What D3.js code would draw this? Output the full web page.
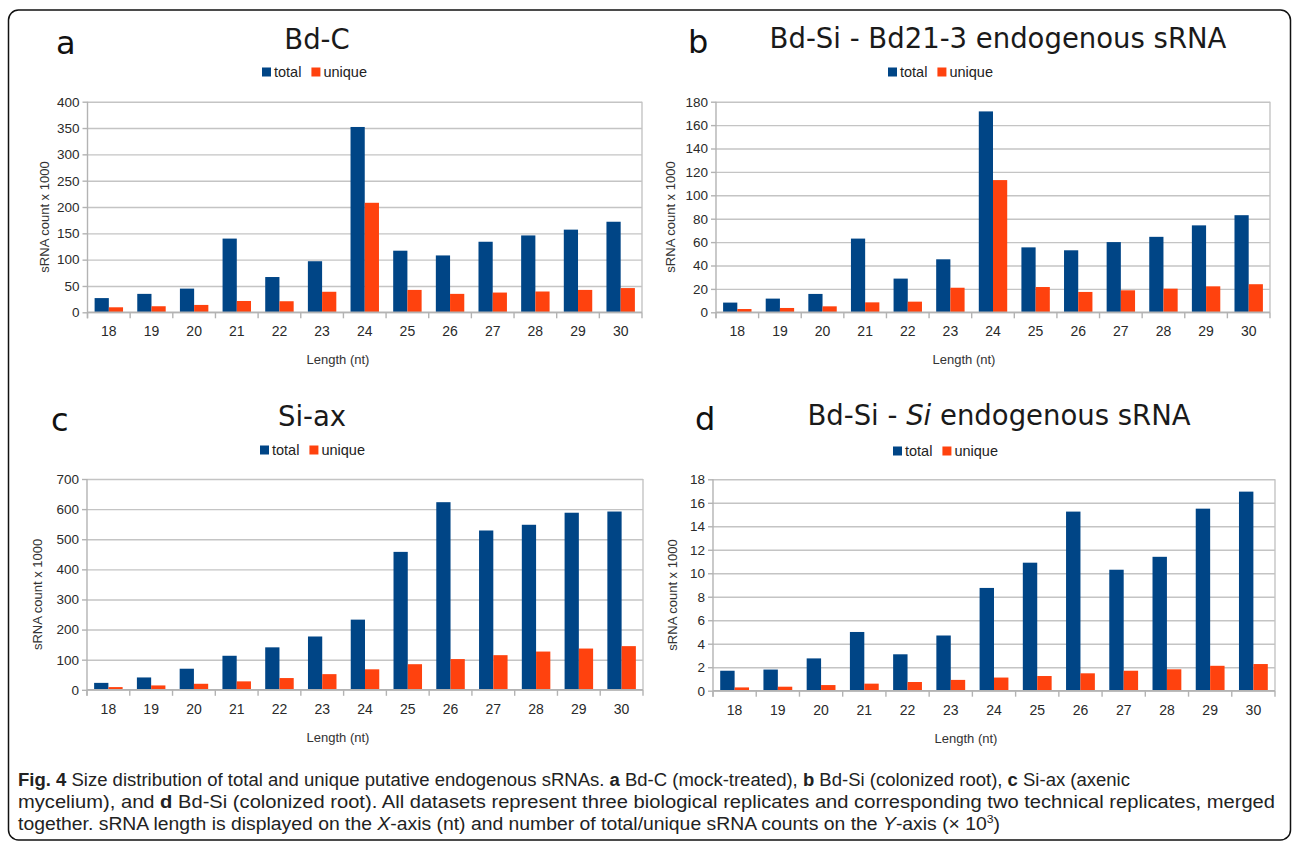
<!DOCTYPE html>
<html>
<head>
<meta charset="utf-8">
<script src="https://cdnjs.cloudflare.com/ajax/libs/d3/7.8.5/d3.min.js"></script>
<style>
  html, body { margin: 0; padding: 0; background: #fff; }
  svg { display: block; }
  .tick text { font-family: "Liberation Sans", Arial, sans-serif; }
</style>
</head>
<body>
<svg id="fig" width="1292" height="843"></svg>
<script>
// sRNA length categories (nt)
var lengths = ["18","19","20","21","22","23","24","25","26","27","28","29","30"];
var seriesNames = ["total", "unique"];

// counts x 1000
var bdcTotal   = [27, 35, 45, 140, 67, 97, 352, 117, 108, 134, 146, 157, 172];
var bdcUnique  = [9.5, 11.5, 14, 21.5, 21, 39, 208, 42.5, 35, 37.5, 39.5, 42.5, 46];
var bdsiTotal  = [8.3, 11.7, 15.7, 63, 28.8, 45.3, 171.7, 55.5, 53, 60, 64.5, 74.3, 83];
var bdsiUnique = [2.8, 3.7, 5.1, 8.5, 9.1, 21, 113, 21.6, 17.4, 18.8, 20.2, 22.2, 24];
var siaxTotal  = [23, 41, 70, 113, 141, 177, 233, 458, 623, 529, 548, 588, 592];
var siaxUnique = [9, 14.5, 20, 28, 39, 52, 68, 85, 102, 115, 127, 137, 145];
var siTotal    = [1.7, 1.8, 2.75, 5.0, 3.1, 4.7, 8.75, 10.9, 15.25, 10.3, 11.4, 15.5, 16.95];
var siUnique   = [0.28, 0.34, 0.48, 0.6, 0.74, 0.92, 1.12, 1.25, 1.48, 1.7, 1.82, 2.12, 2.27];

var ticksA = d3.range(0, 401, 50);
var ticksB = d3.range(0, 181, 20);
var ticksC = d3.range(0, 701, 100);
var ticksD = d3.range(0, 19, 2);

var colors = {total: "#004586", unique: "#ff420e"};

var panels = [
  {letter: "a", title: [{t: "Bd-C"}], total: bdcTotal, unique: bdcUnique, ticks: ticksA,
   x0: 87.5, x1: 642, y0: 101.7, y1: 312.3, letterX: 56, titleX: 317, titleY: 49,
   legendX: 262, legendY: 72, ylabX: 44, xlabX: 338},
  {letter: "b", title: [{t: "Bd-Si - Bd21-3 endogenous sRNA"}], total: bdsiTotal, unique: bdsiUnique, ticks: ticksB,
   x0: 716, x1: 1270, y0: 101.7, y1: 312.3, letterX: 688, titleX: 998, titleY: 48,
   legendX: 888, legendY: 72, ylabX: 670, xlabX: 964},
  {letter: "c", title: [{t: "Si-ax"}], total: siaxTotal, unique: siaxUnique, ticks: ticksC,
   x0: 87, x1: 643, y0: 479, y1: 689.8, letterX: 51, titleX: 312, titleY: 426,
   legendX: 260, legendY: 450, ylabX: 37, xlabX: 338},
  {letter: "d", title: [{t: "Bd-Si - "}, {t: "Si", it: true}, {t: " endogenous sRNA"}], total: siTotal, unique: siUnique, ticks: ticksD,
   x0: 713, x1: 1275, y0: 479.3, y1: 690.7, letterX: 695, titleX: 999, titleY: 425,
   legendX: 893, legendY: 451, ylabX: 672, xlabX: 966}
];

var svg = d3.select("#fig");

// frame
svg.append("rect")
  .attr("x", 8.5).attr("y", 10).attr("width", 1282).attr("height", 830)
  .attr("rx", 10).attr("ry", 10)
  .attr("fill", "none").attr("stroke", "#111").attr("stroke-width", 1.5);

panels.forEach(function (p) {
  var g = svg.append("g");
  var x = d3.scaleBand().domain(lengths).range([p.x0, p.x1]);
  var bw = x.bandwidth();
  var xs = d3.scaleBand().domain(seriesNames).range([bw / 6, bw * 5 / 6]);
  var y = d3.scaleLinear().domain([0, d3.max(p.ticks)]).range([p.y1, p.y0]);

  // grid
  g.append("g")
    .attr("transform", "translate(" + p.x0 + ",0)")
    .call(d3.axisLeft(y).tickValues(p.ticks).tickSize(-(p.x1 - p.x0)).tickFormat(""))
    .call(function (s) {
      s.select(".domain").remove();
      s.selectAll("line").attr("stroke", "#c4c4c4").attr("stroke-width", 1.4);
    });

  // right wall border
  g.append("line")
    .attr("x1", p.x1).attr("x2", p.x1).attr("y1", p.y0).attr("y2", p.y1)
    .attr("stroke", "#c4c4c4").attr("stroke-width", 1.4);

  // bars
  var rows = lengths.map(function (l, i) {
    return {len: l, vals: [{k: "total", v: p.total[i]}, {k: "unique", v: p.unique[i]}]};
  });
  g.selectAll("g.grp").data(rows).enter().append("g")
    .attr("transform", function (d) { return "translate(" + x(d.len) + ",0)"; })
    .selectAll("rect").data(function (d) { return d.vals; }).enter().append("rect")
      .attr("x", function (d) { return xs(d.k); })
      .attr("width", xs.bandwidth())
      .attr("y", function (d) { return y(d.v); })
      .attr("height", function (d) { return y(0) - y(d.v); })
      .attr("fill", function (d) { return colors[d.k]; });

  // y axis
  g.append("g")
    .attr("transform", "translate(" + p.x0 + ",0)")
    .call(d3.axisLeft(y).tickValues(p.ticks).tickSize(5).tickPadding(3))
    .call(function (s) {
      s.select(".domain").attr("stroke", "#b3b3b3").attr("stroke-width", 1.4)
        .attr("d", "M0," + p.y0 + "V" + (p.y1 + 6));
      s.selectAll("line").attr("stroke", "#b3b3b3").attr("stroke-width", 1.4);
      s.selectAll("text").attr("font-size", 13.5).attr("fill", "#2a2a2a");
    });

  // x axis
  var xa = g.append("g").attr("transform", "translate(0," + p.y1 + ")");
  xa.append("line")
    .attr("x1", p.x0).attr("x2", p.x1).attr("y1", 0).attr("y2", 0)
    .attr("stroke", "#b3b3b3").attr("stroke-width", 1.4);
  xa.selectAll("line.bt").data(lengths.concat(["end"])).enter().append("line")
    .attr("x1", function (d) { return d === "end" ? p.x1 : x(d); })
    .attr("x2", function (d) { return d === "end" ? p.x1 : x(d); })
    .attr("y1", 0).attr("y2", 6)
    .attr("stroke", "#b3b3b3").attr("stroke-width", 1.4);
  xa.selectAll("text").data(lengths).enter().append("text")
    .attr("x", function (d) { return x(d) + bw / 2; })
    .attr("y", 24)
    .attr("text-anchor", "middle")
    .attr("font-family", "Liberation Sans, Arial, sans-serif")
    .attr("font-size", 14).attr("fill", "#2a2a2a")
    .text(function (d) { return d; });

  // axis titles
  g.append("text")
    .attr("transform", "translate(" + (p.ylabX + 5) + "," + ((p.y0 + p.y1) / 2 + 10) + ") rotate(-90)")
    .attr("text-anchor", "middle")
    .attr("font-family", "Liberation Sans, Arial, sans-serif")
    .attr("font-size", 13).attr("fill", "#333")
    .text("sRNA count x 1000");
  g.append("text")
    .attr("x", p.xlabX).attr("y", p.y1 + 52)
    .attr("text-anchor", "middle")
    .attr("font-family", "Liberation Sans, Arial, sans-serif")
    .attr("font-size", 13).attr("fill", "#333")
    .text("Length (nt)");

  // panel letter + title
  g.append("text")
    .attr("x", p.letterX).attr("y", p.titleY + 5)
    .attr("font-family", "DejaVu Sans, sans-serif")
    .attr("font-size", 32).attr("fill", "#111")
    .text(p.letter);
  var tt = g.append("text")
    .attr("x", p.titleX).attr("y", p.titleY)
    .attr("text-anchor", "middle")
    .attr("font-family", "DejaVu Sans, sans-serif")
    .attr("font-size", 27.5).attr("fill", "#1a1a1a");
  p.title.forEach(function (s) {
    tt.append("tspan").attr("font-style", s.it ? "italic" : "normal")
      .attr("xml:space", "preserve").text(s.t);
  });

  // legend
  var lg = g.append("g").attr("transform", "translate(" + p.legendX + "," + p.legendY + ")");
  var lx = 0;
  seriesNames.forEach(function (k) {
    lg.append("rect").attr("x", lx).attr("y", -4.5).attr("width", 9).attr("height", 9)
      .attr("fill", colors[k]);
    var t = lg.append("text").attr("x", lx + 12).attr("y", 5)
      .attr("font-family", "Liberation Sans, Arial, sans-serif")
      .attr("font-size", 14.5).attr("fill", "#222")
      .text(k);
    lx += 12 + t.node().getComputedTextLength() + 10;
  });
});

// caption
var caption = [
  {y: 786, len: 1112, parts: [
    {t: "Fig. 4", b: true}, {t: " Size distribution of total and unique putative endogenous sRNAs. "},
    {t: "a", b: true}, {t: " Bd-C (mock-treated), "}, {t: "b", b: true}, {t: " Bd-Si (colonized root), "},
    {t: "c", b: true}, {t: " Si-ax (axenic"}]},
  {y: 808, len: 1257, parts: [
    {t: "mycelium), and "}, {t: "d", b: true},
    {t: " Bd-Si (colonized root). All datasets represent three biological replicates and corresponding two technical replicates, merged"}]},
  {y: 830, len: 982, parts: [
    {t: "together. sRNA length is displayed on the "}, {t: "X", i: true},
    {t: "-axis (nt) and number of total/unique sRNA counts on the "}, {t: "Y", i: true},
    {t: "-axis (\u00d7 10"}, {t: "3", sup: true}, {t: ")", after: true}]}
];
caption.forEach(function (line) {
  var t = svg.append("text")
    .attr("x", 18).attr("y", line.y)
    .attr("font-family", "Liberation Sans Narrow, Liberation Sans, Arial, sans-serif")
    .attr("font-size", 17.5).attr("fill", "#222")
    .attr("textLength", line.len).attr("lengthAdjust", "spacingAndGlyphs");
  line.parts.forEach(function (s) {
    var ts = t.append("tspan").attr("xml:space", "preserve").text(s.t);
    if (s.b) ts.attr("font-weight", "bold");
    if (s.i) ts.attr("font-style", "italic");
    if (s.sup) ts.attr("font-size", 11).attr("dy", -7);
    if (s.after) ts.attr("dy", 7);
  });
});
</script>
</body>
</html>
